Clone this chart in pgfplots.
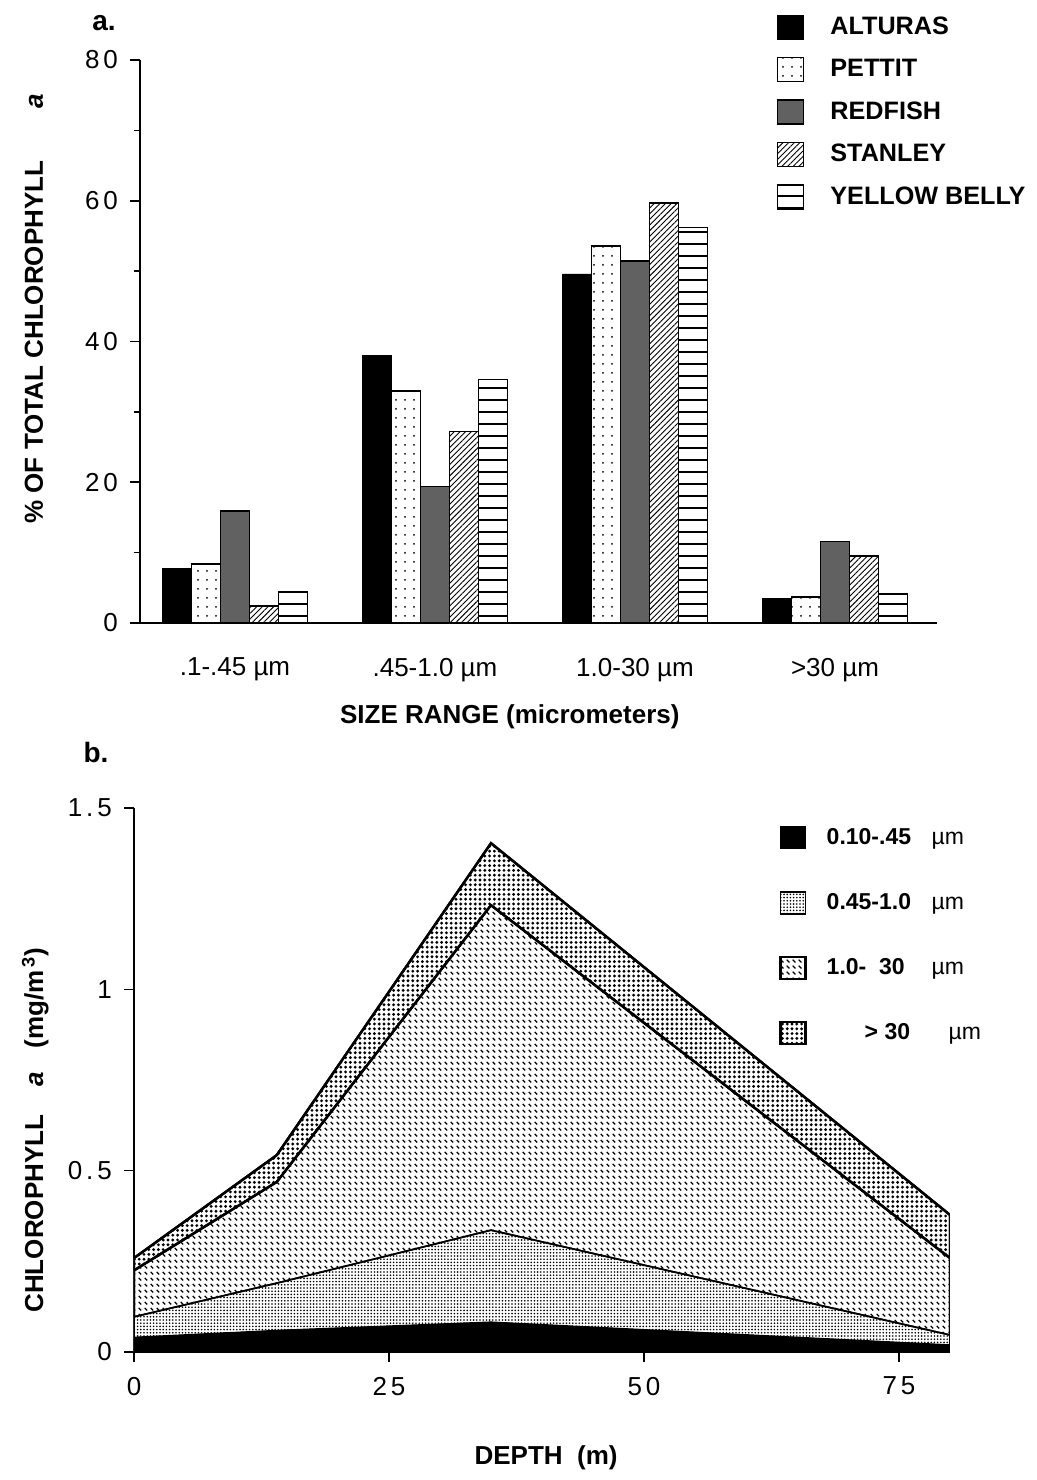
\documentclass[border=0pt]{standalone}
\usepackage{fontspec}
\setmainfont{Liberation Sans}
\usepackage{pgfplots}
\pgfplotsset{compat=1.18}
\usetikzlibrary{patterns,patterns.meta}

\pgfdeclarepatternformonly{shortdash}{\pgfqpoint{0pt}{0pt}}{\pgfqpoint{3pt}{3pt}}{\pgfqpoint{3pt}{3pt}}{%
  \pgfsetlinewidth{0.7pt}%
  \pgfpathmoveto{\pgfqpoint{0.4pt}{2.4pt}}%
  \pgfpathlineto{\pgfqpoint{1.9pt}{0.9pt}}%
  \pgfusepath{stroke}}

\pgfplotsset{sq/.style={legend image code/.code={\draw[##1] (0pt,-6pt) rectangle (13pt,6pt);}}}

\newcommand\dsp{\hspace{2pt}}
\newcommand\tickfont{\fontsize{13}{15}\selectfont}
\newcommand\labfont{\bfseries\fontsize{13}{15}\selectfont}

\begin{document}
\begin{tikzpicture}[x=1pt,y=1pt]
\path[use as bounding box] (0,0) rectangle (518.5,-740);

\node[font=\bfseries\fontsize{14}{16}\selectfont] at (52,-11.5) {a.};
\node[font=\bfseries\fontsize{14}{16}\selectfont] at (48,-376) {b.};

% ---------------- panel a ----------------
\begin{axis}[
  at={(70pt,-311.5pt)}, anchor=south west, scale only axis,
  width=398.5pt, height=281.5pt,
  ybar=0pt, bar width=14.5pt,
  legend image code/.code={\draw[#1] (0pt,-6pt) rectangle (13pt,6pt);},
  xmin=-0.475, xmax=3.51, ymin=0, ymax=80,
  axis lines*=left,
  axis line style={line width=1pt,-},
  xtick={0,1,2,3},
  xticklabels={.1-.45 µm,.45-1.0 µm,1.0-30 µm,>30 µm},
  x tick style={draw=none},
  xticklabel style={font=\fontsize{13}{15}\selectfont, yshift=-9pt},
  ytick={0,20,40,60,80},
  yticklabels={0,2\dsp0,4\dsp0,6\dsp0,8\dsp0},
  minor ytick={10,30,50,70},
  yticklabel style={font=\tickfont, xshift=-2.5pt},
  tick align=outside, major tick length=5pt, minor tick length=3pt,
  tick style={black, line width=0.8pt},
  /pgf/number format/assume math mode=true,
  xlabel={SIZE RANGE (micrometers)},
  xlabel style={font=\labfont, at={(rel axis cs:0.464,-0.167)}, anchor=center},
  ylabel={\% OF TOTAL CHLOROPHYLL\hspace{26pt}\textit{a}},
  ylabel style={font=\labfont, at={(rel axis cs:-0.133,0.558)}, anchor=center, rotate=0},
  legend style={at={(rel axis cs:0.791,1.092)}, anchor=north west, draw=none, fill=none,
    font=\bfseries\fontsize{12.6}{14}\selectfont, row sep=7pt,
    /tikz/every odd column/.append style={column sep=11pt}},
  legend cell align=left,
]
\addplot[sq, draw=black, fill=black] coordinates {(0,7.8) (1,38.0) (2,49.6) (3,3.5)};
\addplot[sq, draw=black, line width=0.8pt, fill=white, postaction={pattern={Dots[distance=4.5pt,radius=0.5pt]}}] coordinates {(0,8.4) (1,33.0) (2,53.6) (3,3.7)};
\addplot[sq, draw=black, line width=0.8pt, fill=black!62] coordinates {(0,15.9) (1,19.4) (2,51.4) (3,11.6)};
\addplot[sq, draw=black, line width=0.8pt, fill=white, postaction={pattern={Lines[angle=45,distance=2pt,line width=0.45pt]}}] coordinates {(0,2.4) (1,27.2) (2,59.7) (3,9.5)};
\addplot[sq, draw=black, line width=0.8pt, fill=white, postaction={pattern={Lines[angle=0,distance=6pt,line width=0.8pt]}}] coordinates {(0,4.4) (1,34.6) (2,56.2) (3,4.1)};
\legend{ALTURAS,PETTIT,REDFISH,STANLEY,YELLOW BELLY}
\end{axis}

% ---------------- panel b ----------------
\begin{axis}[
  at={(67pt,-676pt)}, anchor=south west, scale only axis,
  width=408pt, height=272pt,
  xmin=0, xmax=80, ymin=0, ymax=1.5,
  axis lines*=left,
  axis line style={line width=1pt,-},
  xtick={0,25,50,75},
  xticklabels={0,2\dsp5,5\dsp0,7\dsp5},
  ytick={0,0.5,1,1.5},
  yticklabels={0,0\dsp.\dsp5,1,1\dsp.\dsp5},
  xticklabel style={font=\tickfont, yshift=-4pt},
  yticklabel style={font=\tickfont, xshift=-2.5pt},
  tick align=outside, major tick length=5pt,
  tick style={black, line width=0.8pt},
  /pgf/number format/assume math mode=true,
  xlabel={DEPTH\ \ (m)},
  xlabel style={font=\labfont, at={(rel axis cs:0.505,-0.195)}, anchor=center},
  ylabel={CHLOROPHYLL\hspace{14pt}\textit{a}\hspace{12pt}(mg/m\textsuperscript{\,3})},
  ylabel style={font=\labfont, at={(rel axis cs:-0.121,0.408)}, anchor=center, rotate=0},
  area legend,
  legend image code/.code={\draw[#1] (0pt,-5.5pt) rectangle (12.5pt,5.5pt);},
  legend style={at={(rel axis cs:0.783,0.978)}, anchor=north west, draw=none, fill=none,
    font=\bfseries\fontsize{11.5}{13}\selectfont, row sep=19pt,
    /tikz/every odd column/.append style={column sep=8pt}},
  legend cell align=left,
  reverse legend,
]
\addplot[draw=black, line width=1.2pt, fill=white, postaction={pattern={Dots[distance=2.4pt,radius=0.8pt]}}]
  coordinates {(0,0.259) (14,0.543) (35,1.403) (80,0.378)} \closedcycle;
\addplot[draw=black, line width=1.2pt, fill=white, postaction={pattern=shortdash}]
  coordinates {(0,0.225) (14,0.469) (35,1.232) (80,0.259)} \closedcycle;
\addplot[draw=black, line width=0.8pt, fill=white, postaction={pattern={Dots[distance=1.6pt,radius=0.45pt]}}]
  coordinates {(0,0.097) (14,0.19) (35,0.336) (80,0.047)} \closedcycle;
\addplot[draw=black, line width=0.5pt, fill=black]
  coordinates {(0,0.041) (14,0.06) (35,0.083) (80,0.02)} \closedcycle;
\legend{\hspace{19pt}\makebox[42pt][l]{> 30}\textmd{µm},
        \makebox[52.5pt][l]{1.0-\ \ 30}\textmd{µm},
        \makebox[52.5pt][l]{0.45-1.0}\textmd{µm},
        \makebox[52.5pt][l]{0.10-.45}\textmd{µm}}
\node[font=\bfseries\fontsize{12.5}{14}\selectfont] at (rel axis cs:0.914,1.040) {Redfish Lake};
\draw[line width=0.8pt] (rel axis cs:0.788,1.018) -- (rel axis cs:1.058,1.018);
\end{axis}
\end{tikzpicture}
\end{document}
